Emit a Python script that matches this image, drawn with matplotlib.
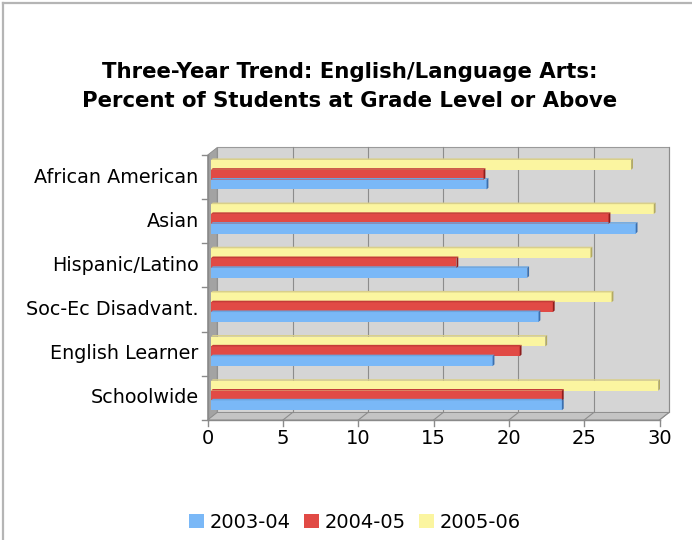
import matplotlib
matplotlib.use("Agg")
import matplotlib.pyplot as plt
from matplotlib.patches import Polygon, Rectangle
from matplotlib.lines import Line2D

categories = ["Schoolwide", "English Learner", "Soc-Ec Disadvant.", "Hispanic/Latino", "Asian", "African American"]
series_names = ["2003-04", "2004-05", "2005-06"]
v2003 = [23.3, 18.7, 21.75, 21.0, 28.2, 18.3]
v2004 = [23.3, 20.5, 22.7, 16.3, 26.4, 18.1]
v2005 = [29.7, 22.2, 26.6, 25.2, 29.4, 27.9]
xticks = [0, 5, 10, 15, 20, 25, 30]

face = ["#7ab8f7", "#e14a45", "#fbf5a0"]
cap = ["#3b6fae", "#8e1d1c", "#b3aa62"]
topc = ["#6aa5e0", "#c43c38", "#d9cf8a"]

W, H = 692, 540
fig = plt.figure(figsize=(W / 100, H / 100), dpi=100)
fig.patch.set_facecolor("white")

x0, x1 = 207.7, 659.5
ytop, ybot = 155, 420
ax = fig.add_axes([x0 / W, 1 - ybot / H, (x1 - x0) / W, (ybot - ytop) / H])
ax.set_xlim(0, 30)
ax.set_ylim(-0.5, 5.5)
ax.axis("off")

pxu = (x1 - x0) / 30.0
pyu = (ybot - ytop) / 6.0
ddx, ddy = 9.5 / pxu, 7.5 / pyu
bdx, bdy = 3.3 / pxu, 2.4 / pyu

n = len(categories)
ax.add_patch(Polygon([(ddx, -0.5 + ddy), (30 + ddx, -0.5 + ddy), (30 + ddx, 5.5 + ddy), (ddx, 5.5 + ddy)],
                     closed=True, facecolor="#d5d5d5", edgecolor="#9a9a9a", lw=0.8, zorder=1, clip_on=False))
ax.add_patch(Polygon([(0, -0.5), (ddx, -0.5 + ddy), (ddx, 5.5 + ddy), (0, 5.5)],
                     closed=True, facecolor="#a3a3a3", edgecolor="#8a8a8a", lw=0.6, zorder=1, clip_on=False))
ax.add_patch(Polygon([(0, -0.5), (30, -0.5), (30 + ddx, -0.5 + ddy), (ddx, -0.5 + ddy)],
                     closed=True, facecolor="#c4c4c4", edgecolor="#8a8a8a", lw=0.6, zorder=1, clip_on=False))
for t in xticks[1:]:
    ax.plot([t + ddx, t + ddx], [-0.5 + ddy, 5.5 + ddy], color="#8c8c8c", lw=0.8, zorder=1.5, clip_on=False)
    ax.plot([t, t + ddx], [-0.5, -0.5 + ddy], color="#8c8c8c", lw=0.8, zorder=1.5, clip_on=False)

bh = 9.8 / pyu
vals = [v2003, v2004, v2005]
for s in range(3):
    for i in range(n):
        v = vals[s][i]
        yc = i + bdy + (s - 1) * bh  # 2003 bottom, 2005 top
        yb = yc - bh / 2
        ax.add_patch(Rectangle((bdx, yb), v, bh, facecolor=face[s], edgecolor="none", zorder=3))
        e = 1.6 / pyu
        d = 1.8 / pxu
        ax.add_patch(Polygon([(bdx, yb + bh), (bdx + v, yb + bh), (bdx + v + d, yb + bh + e), (bdx + d, yb + bh + e)],
                             closed=True, facecolor=topc[s], edgecolor="none", zorder=3.2))
        ax.add_patch(Polygon([(bdx + v, yb), (bdx + v, yb + bh), (bdx + v + d, yb + bh + e), (bdx + v + d, yb + e)],
                             closed=True, facecolor=cap[s], edgecolor="none", zorder=3.3))

ax.plot([0, 30], [-0.5, -0.5], color="#8a8a8a", lw=1.0, zorder=4, clip_on=False)
ax.plot([0, 0], [-0.5, 5.5], color="#8a8a8a", lw=1.0, zorder=4, clip_on=False)
tl = 4 / pxu
tv = 6 / pyu
for t in xticks:
    ax.plot([t, t], [-0.5, -0.5 - tv], color="#8a8a8a", lw=1.0, zorder=4, clip_on=False)
    ax.text(t, -0.5 - 0.2, str(t), ha="center", va="top", fontsize=14, color="black")
for k in range(n + 1):
    ax.plot([-tl * 1.5, 0], [k - 0.5, k - 0.5], color="#8a8a8a", lw=1.0, zorder=4, clip_on=False)
for i, c in enumerate(categories):
    ax.text(-9 / pxu, i, c, ha="right", va="center", fontsize=13.8, color="black")

fig.text(350 / W, 1 - 72 / H, "Three-Year Trend: English/Language Arts:", ha="center", va="center",
         fontsize=15.3, fontweight="bold")
fig.text(350 / W, 1 - 101 / H, "Percent of Students at Grade Level or Above", ha="center", va="center",
         fontsize=15.3, fontweight="bold")

handles = [Rectangle((0, 0), 1, 1, facecolor=face[s], edgecolor="none") for s in range(3)]
fig.legend(handles, series_names, loc="center", bbox_to_anchor=(355 / W, 1 - 522 / H), ncol=3,
           frameon=False, fontsize=14, handlelength=0.75, handleheight=0.75, handletextpad=0.3,
           columnspacing=0.7)

fig.add_artist(Line2D([2.5 / W, 2.5 / W], [0, 1 - 3 / H], transform=fig.transFigure, color="#b5b5b5", lw=1.6))
fig.add_artist(Line2D([2.5 / W, 1], [1 - 3 / H, 1 - 3 / H], transform=fig.transFigure, color="#b5b5b5", lw=1.6))

fig.savefig("out.png", dpi=100)
